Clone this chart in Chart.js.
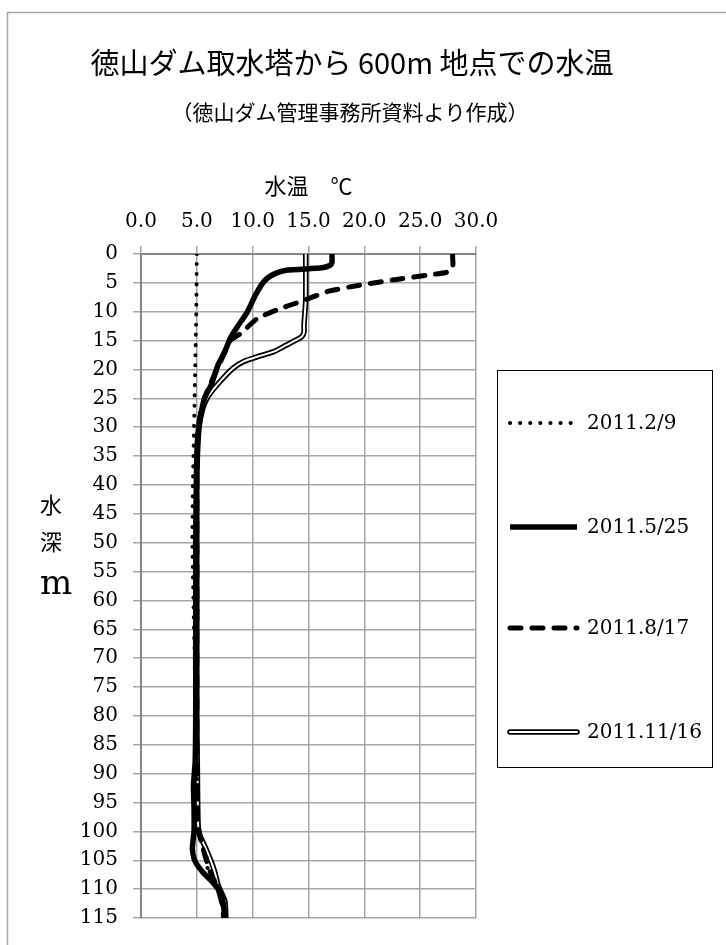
<!DOCTYPE html>
<html>
<head>
<meta charset="utf-8">
<script src="https://cdn.jsdelivr.net/npm/chart.js@4"></script>
<style>
  body { margin: 0; background: #fff; }
</style>
</head>
<body>
<canvas id="myChart" width="726" height="945"></canvas>
<script>
// 水温データ（徳山ダム取水塔から600m地点）
const chartTitle = "徳山ダム取水塔から 600m 地点での水温";
const chartSubtitle = "（徳山ダム管理事務所資料より作成）";
const seriesNames = ["2011.2/9", "2011.5/25", "2011.8/17", "2011.11/16"];

const depthFeb = [0, 10, 20, 30, 40, 50, 60, 70, 80, 90, 98, 101, 102.5, 104, 106, 107.7, 110, 113, 115];
const tempFeb = [5.0, 4.95, 4.85, 4.75, 4.65, 4.6, 4.7, 4.8, 4.9, 5.0, 5.1, 5.3, 5.4, 5.9, 5.9, 6.3, 7.0, 7.3, 7.4];

const depthMay = [0, 1.5, 2.0, 2.4, 2.8, 3.4, 4.2, 5.3, 7.3, 10.1, 12.7, 14.6, 16.9, 19.2, 22.6, 24.9, 28.3, 31.1, 35, 40, 50, 60, 70, 80, 88, 92, 96, 100, 103, 105, 107, 109, 111, 113, 115];
const tempMay = [17.1, 17.1, 16.9, 16.2, 13.0, 12.0, 11.3, 10.8, 10.2, 9.5, 8.6, 8.0, 7.5, 6.9, 6.3, 5.7, 5.3, 5.1, 5.0, 4.95, 4.9, 4.9, 4.9, 4.9, 4.85, 4.7, 4.75, 4.75, 4.6, 4.8, 5.5, 6.5, 7.2, 7.4, 7.5];

const depthAug = [0, 2.6, 3.2, 3.5, 4.4, 5.3, 6.4, 8.1, 9.5, 11.2, 13.8, 15, 17, 20, 23, 25, 28, 31, 40, 60, 80, 90, 98, 101, 104, 107, 110, 113, 115];
const tempAug = [27.9, 27.9, 27.3, 26.3, 22.9, 19.9, 16.9, 14.5, 12.4, 10.4, 8.9, 8.0, 7.5, 6.8, 6.1, 5.7, 5.3, 5.1, 5.0, 5.0, 5.0, 5.0, 5.05, 5.3, 5.7, 6.2, 6.9, 7.3, 7.4];

const depthNov = [0, 8, 12.3, 13.5, 14.3, 14.8, 15.8, 16.9, 17.8, 18.6, 19.7, 21.4, 23.4, 25, 27, 30, 35, 40, 60, 80, 90, 98, 100.3, 102.5, 104.8, 107, 109.3, 112, 115];
const tempNov = [14.75, 14.75, 14.6, 14.6, 14.4, 14.0, 13.0, 11.9, 10.4, 9.2, 8.3, 7.4, 6.5, 5.9, 5.5, 5.2, 5.05, 5.0, 5.0, 5.0, 5.05, 5.1, 5.2, 5.7, 6.2, 6.6, 6.9, 7.5, 7.6];

function pts(depths, temps) {
  let out = [];
  for (let i = 0; i < depths.length; i++) {
    out.push({ x: temps[i], y: depths[i] });
  }
  return out;
}

const legendY = [423, 527, 628, 732];

const decor = {
  id: "decor",
  beforeDraw(chart) {
    let ctx = chart.ctx;
    ctx.save();
    ctx.fillStyle = "#fff";
    ctx.fillRect(0, 0, chart.width, chart.height);
    ctx.strokeStyle = "#a6a6a6";
    ctx.lineWidth = 1.5;
    ctx.strokeRect(7.5, 12.5, 760, 960);
    ctx.restore();
  },
  afterDraw(chart) {
    let ctx = chart.ctx;
    ctx.save();
    ctx.fillStyle = "#000";
    ctx.textAlign = "center";
    ctx.textBaseline = "middle";
    ctx.font = '29px "Noto Sans CJK JP"';
    ctx.fillText(chartTitle, 352, 63);
    ctx.font = '21px "Noto Sans CJK JP"';
    ctx.fillText(chartSubtitle, 350, 112);

    // 縦軸タイトル
    ctx.font = '22px "Noto Sans CJK JP"';
    ctx.fillText("水", 51, 505);
    ctx.fillText("深", 51, 542);
    ctx.font = '34px "DejaVu Serif"';
    ctx.textBaseline = "alphabetic";
    ctx.fillText("m", 56, 594);

    // 凡例
    ctx.strokeStyle = "#000";
    ctx.lineWidth = 1;
    ctx.setLineDash([]);
    ctx.strokeRect(497.5, 370.5, 215, 397);
    ctx.font = '20px "DejaVu Serif"';
    ctx.textAlign = "left";
    ctx.textBaseline = "middle";
    let ds = chart.data.datasets.filter(d => d.label);
    ds.forEach((d, i) => {
      let y = legendY[i];
      ctx.beginPath();
      ctx.moveTo(510, y);
      ctx.lineTo(577, y);
      ctx.setLineDash(d.borderDash || []);
      ctx.lineCap = d.borderCapStyle || "butt";
      ctx.lineWidth = d.borderWidth;
      ctx.strokeStyle = d.borderColor;
      ctx.stroke();
      if (d.doubleLine) {
        ctx.beginPath();
        ctx.moveTo(510, y);
        ctx.lineTo(577, y);
        ctx.lineWidth = 2;
        ctx.strokeStyle = "#fff";
        ctx.stroke();
      }
      ctx.setLineDash([]);
      ctx.fillStyle = "#000";
      ctx.fillText(d.label, 587, y + 1);
    });
    ctx.restore();
  }
};

const serif = { family: "DejaVu Serif", size: 20 };

new Chart("myChart", {
  type: "line",
  data: {
    datasets: [
      {
        label: seriesNames[0],
        data: pts(depthFeb, tempFeb),
        borderColor: "#000",
        borderWidth: 4,
        borderDash: [0.1, 10],
        borderCapStyle: "round",
      },
      {
        label: seriesNames[1],
        data: pts(depthMay, tempMay),
        borderColor: "#000",
        borderWidth: 5.5,
        borderCapStyle: "butt",
      },
      {
        label: seriesNames[2],
        data: pts(depthAug, tempAug),
        borderColor: "#000",
        borderWidth: 5,
        borderDash: [11, 11],
        borderCapStyle: "round",
      },
      {
        label: "",
        data: pts(depthNov, tempNov),
        borderColor: "#fff",
        borderWidth: 2,
      },
      {
        label: seriesNames[3],
        data: pts(depthNov, tempNov),
        borderColor: "#000",
        borderWidth: 5.5,
        borderCapStyle: "round",
        doubleLine: true,
      },
    ],
  },
  options: {
    responsive: false,
    animation: false,
    layout: { padding: { left: 41, right: 250, top: 150, bottom: 15 } },
    elements: {
      point: { radius: 0, hoverRadius: 0 },
      line: { tension: 0.2, fill: false },
    },
    plugins: {
      legend: { display: false },
      title: { display: false },
      tooltip: { enabled: false },
    },
    scales: {
      x: {
        type: "linear",
        position: "top",
        min: 0,
        max: 30,
        afterFit: (s) => { s.height = 104; },
        ticks: {
          stepSize: 5,
          autoSkip: false,
          maxRotation: 0,
          padding: 12,
          color: "#000",
          font: serif,
          callback: (v) => v.toFixed(1),
        },
        title: {
          display: true,
          text: "水温　℃",
          color: "#000",
          font: { family: "Noto Sans CJK JP", size: 22 },
          padding: { top: 22, bottom: 0 },
        },
        grid: { color: "#a6a6a6", lineWidth: 1.5, tickLength: 8 },
        border: { color: "#868686", width: 2 },
      },
      y: {
        type: "linear",
        reverse: true,
        min: 0,
        max: 115,
        afterFit: (s) => { s.width = 100; },
        ticks: {
          stepSize: 5,
          autoSkip: false,
          padding: 15,
          color: "#000",
          font: serif,
        },
        grid: { color: "#a6a6a6", lineWidth: 1.5, tickLength: 8 },
        border: { color: "#868686", width: 2 },
      },
    },
  },
  plugins: [decor],
});
</script>
</body>
</html>
